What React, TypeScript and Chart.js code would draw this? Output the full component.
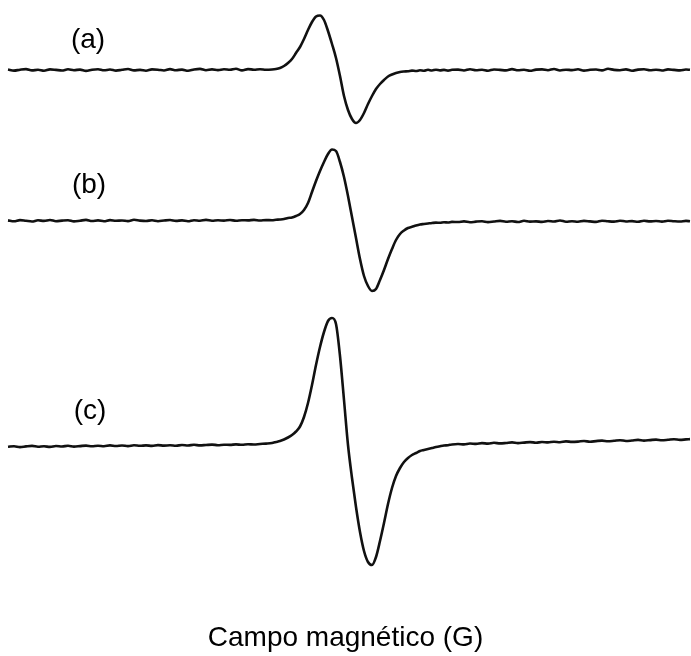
import React, { useEffect, useRef } from "react";
import { Chart, registerables } from "chart.js";

Chart.register(...registerables);

// Magnetic field (G) at which each spectrum was sampled
const field: number[] = [
  3330, 3333, 3336, 3339, 3342, 3345, 3348, 3351, 3354, 3357, 3360, 3363, 3366, 3369, 3372,
  3375, 3378, 3381, 3384, 3387, 3390, 3393, 3396, 3399, 3402, 3405, 3408, 3411, 3414, 3417,
  3420, 3423, 3426, 3429, 3432, 3435, 3438, 3441, 3444, 3447, 3450, 3453, 3456, 3459,
  3462, 3464, 3466, 3468, 3470, 3472, 3474, 3476, 3478, 3480, 3482, 3484, 3486, 3488, 3490,
  3492, 3494, 3496, 3498, 3500, 3502, 3504, 3506, 3508, 3510, 3512, 3514, 3516, 3518, 3520,
  3522, 3524, 3526, 3528, 3530, 3532, 3534, 3536, 3538, 3540, 3542, 3544, 3546, 3548, 3550, 3552,
  3555, 3558, 3561, 3564, 3567, 3570, 3573, 3576, 3579, 3582, 3585, 3588, 3591, 3594, 3597,
  3600, 3603, 3606, 3609, 3612, 3615, 3618, 3621, 3624, 3627, 3630, 3633, 3636, 3639, 3642,
  3645, 3648, 3651, 3654, 3657, 3660, 3663, 3666, 3669, 3671,
];

// EPR signal intensity (a.u.) of sample (a)
const signalA: number[] = [
  0.5, -0.6, 0.3, 0.9, -0.4, 0.2, -0.8, 0.6, 0.1, -0.5, 0.7, -0.2, 0.4, -0.9, 0.3,
  0.8, -0.3, 0.5, -0.6, 0.2, 1.0, -0.4, 0.1, -0.7, 0.6, 0.3, -0.5, 0.9, -0.2, 0.4,
  -0.8, 0.5, 1.1, -0.3, 0.6, -0.1, 0.7, 0.2, 1.2, -0.4, 0.9, 0.3, 0.8, 0.2,
  0.5, 1, 2, 4, 7, 11, 17, 23, 31, 40, 48, 53.5, 54.5, 50, 39,
  26, 12, -6, -26, -40, -49, -53, -50, -43, -34, -26, -19, -14, -10, -6.5,
  -4.5, -3, -2, -1.5, -1.2, -0.6, -1, -0.3, -0.8, 0.2, -0.5, 0.3, -0.4, 0.1, -0.6, 0.2,
  0.4, -0.5, 0.8, -0.2, 0.3, -0.7, 0.5, 0.1, -0.4, 0.9, -0.3, 0.2, -0.8, 0.4, 0.6,
  -0.2, 1.0, -0.5, 0.3, -0.1, 0.7, -0.6, 0.2, 0.5, -0.4, 1.2, 0.1, -0.3, 0.6, -0.7,
  0.4, 0.8, -0.2, 0.3, -0.5, 0.6, 0.1, -0.4, 0.5, 0.2,
];

// EPR signal intensity (a.u.) of sample (b)
const signalB: number[] = [
  0.6, -0.3, 0.9, 0.2, -0.5, 0.7, 0.1, 1.0, -0.2, 0.4, 0.8, -0.4, 0.3, 1.1, 0.0,
  0.6, -0.3, 0.9, 0.2, 0.5, -0.1, 1.2, 0.4, 0.0, 0.7, -0.2, 0.5, 1.0, 0.1, 0.6,
  -0.3, 0.8, 0.3, 1.1, 0.2, 0.7, 0.4, 1.0, 0.3, 0.8, 0.6, 1.1, 0.5, 0.9,
  0.8, 1.2, 1.5, 2, 3, 3.5, 5, 7, 11, 18, 29, 40, 50, 59, 67,
  71.5, 70, 59, 44, 25, 4, -17, -38, -55, -65, -70, -68, -59, -49, -38,
  -28, -19, -13, -9.5, -7, -5.8, -4.5, -3.5, -3, -2.5, -2, -1.6, -1.8, -1.2, -1.5, -0.9,
  -1.0, -0.4, -1.3, -0.6, -0.2, -1.1, -0.5, 0.1, -0.8, -0.3, -1.0, 0.2, -0.6, -0.4, -0.9,
  0.0, -0.5, 0.5, -0.7, -0.2, -0.8, 0.1, -0.4, -0.9, 0.2, -0.3, -0.6, 0.3, -0.5, -0.1,
  -0.8, 0.2, -0.4, 0.0, -0.6, 0.3, -0.2, -0.5, 0.1, -0.3,
];

// EPR signal intensity (a.u.) of sample (c)
const signalC: number[] = [
  -0.8, -0.2, -1.1, -0.4, 0.1, -0.7, -0.3, -0.9, 0.0, -0.5, 0.2, -0.6, -0.1, 0.4, -0.3,
  0.3, -0.2, 0.6, 0.0, 0.5, -0.1, 0.8, 0.2, 0.6, 0.1, 0.9, 0.4, 0.7, 0.3, 1.0,
  0.5, 1.2, 0.6, 1.0, 1.4, 0.8, 1.3, 1.1, 1.6, 1.2, 1.8, 1.5, 2.0, 2.4,
  3, 4, 5, 6.5, 8.5, 11, 14.5, 19.5, 29, 43, 61, 81, 99, 114, 125,
  128, 122, 90, 46, 1, -32, -61, -86, -105, -116, -119, -111, -95, -77, -58,
  -42, -30, -22, -16, -12, -9, -7, -5, -4, -3, -2, -1, -0.2, 0.5, 0.8, 1.5,
  2.0, 1.6, 2.5, 2.1, 2.9, 2.4, 3.2, 2.6, 3.0, 3.6, 2.9, 3.4, 3.9, 3.3, 4.0,
  3.6, 4.3, 3.8, 4.6, 4.1, 4.4, 5.0, 4.3, 4.9, 5.4, 4.7, 5.2, 5.8, 5.0, 5.5,
  6.1, 5.4, 5.9, 6.4, 5.7, 6.2, 6.8, 6.1, 6.6, 6.9,
];

const sampleNames: string[] = ["(a)", "(b)", "(c)"];
const xAxisTitle = "Campo magnético (G)";

// vertical stacking of the three spectra
const offsets = [0, -151, -376];
// where each sample name sits: field (G) and height above its baseline (a.u.)
const nameAnchors = [
  { field: 3370, rise: 30 },
  { field: 3370.5, rise: 36 },
  { field: 3371, rise: 35 },
];

const FONT = "'Liberation Sans', Arial, Helvetica, sans-serif";

const sampleNamePlugin = {
  id: "sampleNames",
  afterDatasetsDraw(chart: any) {
    const { ctx, scales } = chart;
    ctx.save();
    ctx.fillStyle = "#000";
    ctx.font = `28px ${FONT}`;
    ctx.textAlign = "center";
    ctx.textBaseline = "middle";
    sampleNames.forEach((name, i) => {
      const a = nameAnchors[i];
      const x = scales.x.getPixelForValue(a.field);
      const y = scales.y.getPixelForValue(offsets[i] + a.rise);
      ctx.fillText(name, x, y);
    });
    ctx.restore();
  },
};

export default function App() {
  const canvasRef = useRef<HTMLCanvasElement | null>(null);

  useEffect(() => {
    const canvas = canvasRef.current;
    if (!canvas) return;
    const series = [signalA, signalB, signalC];
    const chart = new Chart(canvas, {
      type: "line",
      data: {
        datasets: series.map((s, i) => ({
          label: sampleNames[i],
          data: field.map((f, j) => ({ x: f, y: s[j] + offsets[i] })),
          borderColor: "#111",
          borderWidth: 2.6,
          pointRadius: 0,
          cubicInterpolationMode: "monotone",
          fill: false,
        })),
      },
      options: {
        animation: false,
        responsive: false,
        devicePixelRatio: 1,
        layout: { padding: 0 },
        plugins: {
          legend: { display: false },
          tooltip: { enabled: false },
          title: {
            display: true,
            position: "bottom",
            text: xAxisTitle,
            color: "#000",
            font: { family: FONT, size: 28, weight: "normal" },
            padding: { top: 13, bottom: 1 },
          },
        },
        scales: {
          x: { type: "linear", min: 3326, max: 3671.5, display: false },
          y: { min: -538.4, max: 70, display: false },
        },
      },
      plugins: [sampleNamePlugin],
    });
    return () => chart.destroy();
  }, []);

  return (
    <div style={{ position: "absolute", left: 0, top: 0, width: 691, height: 656, background: "#fff" }}>
      <canvas ref={canvasRef} width={691} height={656} />
    </div>
  );
}
